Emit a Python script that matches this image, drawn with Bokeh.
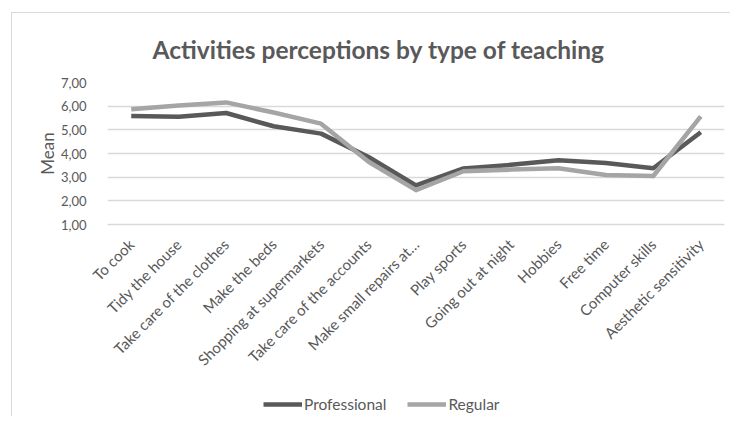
import math
from bokeh.plotting import figure
from bokeh.layouts import column
from bokeh.models import FactorRange, Range1d, FixedTicker, Legend, LegendItem
from bokeh.embed import file_html
from bokeh.resources import INLINE

categories = ["To cook", "Tidy the house", "Take care of the clothes", "Make the beds",
              "Shopping at supermarkets", "Take care of the accounts", "Make small repairs at…",
              "Play sports", "Going out at night", "Hobbies", "Free time", "Computer skills",
              "Aesthetic sensitivity"]
professional = [5.58, 5.55, 5.71, 5.15, 4.84, 3.85, 2.65, 3.37, 3.52, 3.71, 3.60, 3.38, 4.90]
regular = [5.87, 6.03, 6.16, 5.73, 5.26, 3.65, 2.45, 3.25, 3.32, 3.38, 3.09, 3.05, 5.57]
series_names = ["Professional", "Regular"]
y_ticks = [1, 2, 3, 4, 5, 6, 7]
y_tick_labels = ["1,00", "2,00", "3,00", "4,00", "5,00", "6,00", "7,00"]

FONT = "Lato"
TXT = "#595959"
C_PRO = "#595959"
C_REG = "#a5a5a5"

p = figure(width=718, height=379, output_backend="svg", toolbar_location=None,
           x_range=FactorRange(*categories, range_padding=0), y_range=Range1d(1, 7),
           title="Activities perceptions by type of teaching",
           min_border_left=95, min_border_right=6, min_border_top=68, min_border_bottom=168)

p.title.align = "left"
p.title.offset = 45
p.title.text_font = FONT
p.title.text_font_size = "24.5px"
p.title.text_font_style = "bold"
p.title.text_color = TXT
p.title.text_line_height = 0.8
p.title.standoff = 38
p.outline_line_color = None

p.xgrid.grid_line_color = None
p.ygrid.grid_line_color = "#d9d9d9"
p.ygrid.grid_line_width = 1.5
p.yaxis.ticker = FixedTicker(ticks=y_ticks)
p.yaxis.major_label_overrides = {t: l for t, l in zip(y_ticks, y_tick_labels)}
p.yaxis.axis_line_color = None
p.yaxis.major_tick_line_color = None
p.yaxis.minor_tick_line_color = None
p.yaxis.major_label_text_font = FONT
p.yaxis.major_label_text_font_size = "13px"
p.yaxis.major_label_text_color = TXT
p.yaxis.major_label_standoff = 15
p.yaxis.axis_label = "Mean"
p.yaxis.axis_label_text_font = FONT
p.yaxis.axis_label_text_font_size = "17px"
p.yaxis.axis_label_text_font_style = "normal"
p.yaxis.axis_label_text_color = TXT
p.yaxis.axis_label_standoff = 0

p.xaxis.axis_line_color = "#d9d9d9"
p.xaxis.axis_line_width = 1.5
p.xaxis.major_tick_line_color = None
p.xaxis.minor_tick_line_color = None
p.xaxis.major_label_orientation = math.pi / 4
p.xaxis.major_label_text_font = FONT
p.xaxis.major_label_text_font_size = "15px"
p.xaxis.major_label_text_color = TXT
p.xaxis.major_label_standoff = 11

p.line(categories, professional, line_color=C_PRO, line_width=4.5, line_join="round")
p.line(categories, regular, line_color=C_REG, line_width=4.5, line_join="round")

# legend strip below the chart (its frame is aligned with the chart frame)
lg = figure(width=718, height=24, output_backend="svg", toolbar_location=None,
            x_range=Range1d(0, 1), y_range=Range1d(0, 1), x_axis_type=None, y_axis_type=None,
            min_border=0)
lg.grid.grid_line_color = None
lg.outline_line_color = None
d1 = lg.line([5, 6], [5, 6], line_color=C_PRO, line_width=4.5)
d2 = lg.line([5, 6], [5, 6], line_color=C_REG, line_width=4.5)
legend = Legend(items=[LegendItem(label=series_names[0], renderers=[d1]),
                       LegendItem(label=series_names[1], renderers=[d2])],
                orientation="horizontal", location=(156, 2), margin=0, padding=0,
                label_text_font=FONT, label_text_font_size="15.5px", label_text_color=TXT,
                glyph_width=39, label_standoff=2, spacing=21, border_line_color=None,
                background_fill_alpha=0)
lg.add_layout(legend, "center")

layout = column(p, lg, spacing=0,
                styles={"margin-left": "11px", "margin-top": "12px",
                        "border-left": "1.5px solid #d9d9d9", "border-top": "1.5px solid #d9d9d9"})

open("out.html", "w").write(file_html(layout, INLINE))
